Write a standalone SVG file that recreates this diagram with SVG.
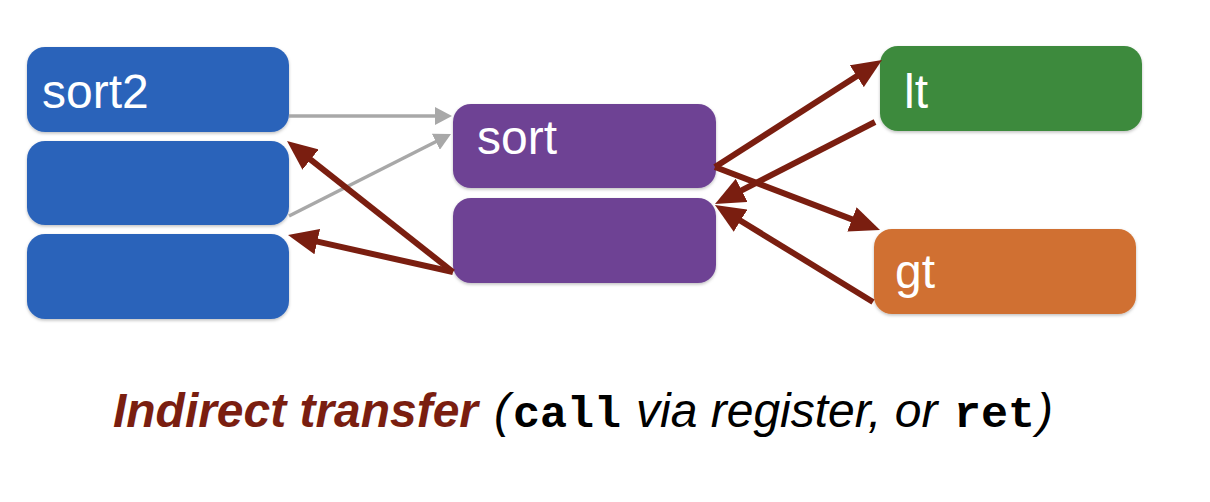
<svg xmlns="http://www.w3.org/2000/svg" width="1210" height="502" viewBox="0 0 1210 502">
  <style>
    .box { stroke: none; filter: url(#sh); }
    .blue { fill: #2C64BA; }
    .purple { fill: #6E4394; }
    .green { fill: #3C8A3C; }
    .orange { fill: #D07030; }
    .lbl { font-family: "Liberation Sans", Arial, sans-serif; font-size: 48px; fill: #ffffff; }
    .red { stroke: #7A1E10; stroke-width: 6; fill: none; marker-end: url(#ah-red); }
    .gray { stroke: #A8A8A8; stroke-width: 3.5; fill: none; marker-end: url(#ah-gray); }
    .cap { font-family: "Liberation Sans", Arial, sans-serif; font-size: 48px; }
    .mono { font-family: "Liberation Mono", "Courier New", monospace; font-weight: bold; font-style: normal; font-size: 45px; fill: #000; }
  </style>
  <defs>
    <filter id="sh" x="-10%" y="-10%" width="120%" height="130%">
      <feDropShadow dx="0" dy="1.5" stdDeviation="1.5" flood-color="#000" flood-opacity="0.25"/>
    </filter>
    <marker id="ah-red" markerUnits="userSpaceOnUse" markerWidth="30" markerHeight="26" refX="10" refY="13" orient="auto">
      <path d="M0,0 L30,13 L0,26 z" fill="#7A1E10"/>
    </marker>
    <marker id="ah-gray" markerUnits="userSpaceOnUse" markerWidth="17" markerHeight="18" refX="6" refY="9" orient="auto">
      <path d="M0,0 L17,9 L0,18 z" fill="#A8A8A8"/>
    </marker>
  </defs>
  <rect width="1210" height="502" fill="#ffffff"/>

  <g id="sort2-top">
    <rect class="box blue" x="27" y="47" width="262" height="85" rx="18"/>
    <text class="lbl" x="42" y="108">sort2</text>
  </g>
  <g id="sort2-mid">
    <rect class="box blue" x="27" y="141" width="262" height="84" rx="18"/>
  </g>
  <g id="sort2-bot">
    <rect class="box blue" x="27" y="234" width="262" height="85" rx="18"/>
  </g>
  <g id="sort-top">
    <rect class="box purple" x="453" y="104" width="263" height="84" rx="18"/>
    <text class="lbl" x="477" y="154">sort</text>
  </g>
  <g id="sort-bot">
    <rect class="box purple" x="453" y="198" width="263" height="85" rx="18"/>
  </g>
  <g id="lt">
    <rect class="box green" x="880" y="46" width="262" height="85" rx="18"/>
    <text class="lbl" x="904" y="108">lt</text>
  </g>
  <g id="gt">
    <rect class="box orange" x="874" y="229" width="262" height="85" rx="18"/>
    <text class="lbl" x="895" y="288">gt</text>
  </g>

  <g id="connectors">
    <line class="gray" x1="289" y1="116" x2="441" y2="116"/>
    <line class="gray" x1="289" y1="216" x2="441.2" y2="139"/>
    <line class="red" x1="453" y1="272" x2="302.7" y2="153.4"/>
    <line class="red" x1="453" y1="272" x2="307.5" y2="239.4"/>
    <line class="red" x1="715" y1="167" x2="865.2" y2="70.8"/>
    <line class="red" x1="715" y1="167" x2="861.3" y2="222.9"/>
    <line class="red" x1="875" y1="122" x2="732.8" y2="194.9"/>
    <line class="red" x1="873" y1="302" x2="732" y2="215.5"/>
  </g>

  <g id="caption">
    <text class="cap" y="427">
      <tspan x="113" font-weight="bold" font-style="italic" fill="#7A1E10" textLength="365" lengthAdjust="spacingAndGlyphs">Indirect transfer</tspan>
      <tspan x="494" font-style="italic" fill="#000">(</tspan>
      <tspan x="513" class="mono">call</tspan>
      <tspan x="636" font-style="italic" fill="#000">via register, or</tspan>
      <tspan x="954" class="mono">ret</tspan>
      <tspan x="1037" font-style="italic" fill="#000">)</tspan>
    </text>
  </g>
</svg>
